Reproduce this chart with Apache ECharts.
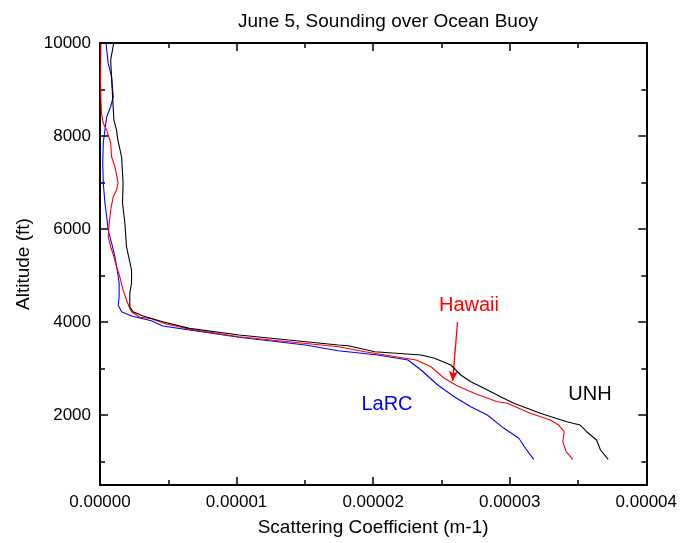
<!DOCTYPE html>
<html>
<head>
<meta charset="utf-8">
<script src="https://cdn.jsdelivr.net/npm/echarts@6/dist/echarts.min.js"></script>
<style>
html,body{margin:0;padding:0;background:#fff;}
#c{width:680px;height:543px;}
</style>
</head>
<body>
<div id="c"></div>
<script>
// Scattering coefficient in units of 1e-6 m-1, altitude in ft
const unhX = [1.0, 0.78, 0.92, 1.02, 1.21, 1.31, 1.58, 1.69, 1.65, 1.82, 1.94, 2.31, 2.31, 2.18, 2.18, 2.42, 3.15, 4.60, 6.55, 10.18, 13.82, 17.45, 18.18, 20.12, 23.51, 24.49, 25.69, 26.42, 27.15, 28.12, 29.09, 29.33, 30.31, 32.24, 34.18, 35.15, 35.64, 36.36, 36.65, 37.21];
const unhAlt = [9990, 9633, 8845, 8344, 8129, 7914, 7555, 6990, 6560, 6130, 5621, 5121, 4841, 4626, 4332, 4224, 4132, 4009, 3867, 3724, 3616, 3509, 3494, 3365, 3294, 3223, 3079, 2864, 2720, 2578, 2434, 2398, 2256, 2041, 1860, 1789, 1645, 1467, 1252, 1052];

const hawX = [0.07, 0.04, 0.07, 0.11, 0.24, 0.49, 0.78, 0.85, 1.09, 1.33, 1.21, 0.97, 0.78, 0.68, 0.60, 0.78, 1.02, 1.21, 1.45, 1.69, 1.94, 2.13, 2.31, 2.91, 3.64, 4.85, 6.55, 10.18, 17.45, 19.40, 23.15, 24.24, 25.21, 26.18, 27.40, 29.09, 29.82, 31.51, 32.97, 33.58, 33.99, 33.89, 34.13, 34.62];
const hawAlt = [9990, 9200, 8774, 8494, 8273, 8129, 7850, 7555, 7340, 6990, 6840, 6696, 6410, 6130, 5836, 5621, 5406, 5191, 4976, 4691, 4476, 4332, 4224, 4104, 4082, 3960, 3846, 3687, 3472, 3365, 3186, 3042, 2793, 2628, 2471, 2290, 2256, 2041, 1897, 1789, 1645, 1431, 1216, 1052];

const larcX = [0.44, 0.60, 0.85, 0.97, 0.78, 0.49, 0.36, 0.24, 0.20, 0.24, 0.36, 0.49, 0.60, 0.85, 1.09, 1.26, 1.40, 1.40, 1.33, 1.58, 2.31, 3.76, 4.60, 6.55, 10.18, 15.03, 17.45, 20.36, 22.55, 23.51, 24.73, 25.94, 27.15, 28.36, 29.58, 30.67, 31.15, 31.76];
const larcAlt = [9992, 9562, 9274, 8845, 8630, 8415, 8129, 7850, 7420, 6990, 6560, 6266, 5980, 5701, 5406, 5121, 4841, 4547, 4368, 4224, 4132, 4031, 3917, 3831, 3674, 3509, 3386, 3294, 3186, 2971, 2649, 2398, 2183, 2004, 1718, 1504, 1289, 1052];

const xTicks = [0, 10, 20, 30, 40];
const yMajorTicks = [2000, 4000, 6000, 8000, 10000];
const yMinorTicks = [1000, 3000, 5000, 7000, 9000];

const arrowFrom = [26.18, 4003];
const arrowTo = [25.82, 2735];

const FONT = 'Liberation Sans, Arial, sans-serif';
const pair = (xs, ys) => xs.map((v, i) => [v, ys[i]]);
const chart = echarts.init(document.getElementById('c'));

const axisLine = {show: true, onZero: false, lineStyle: {color: '#000', width: 2}};
function yAxisDef(pos, ticks, len, labels) {
  return {
    type: 'value', position: pos, min: 500, max: 10000,
    axisLine: axisLine,
    axisTick: {show: true, inside: true, length: len, customValues: ticks, lineStyle: {color: '#000', width: 1.5}},
    axisLabel: labels ? {show: true, customValues: yMajorTicks, color: '#000', fontSize: 17, fontFamily: FONT, margin: 9,
      formatter: v => String(v)} : {show: false},
    splitLine: {show: false}
  };
}

chart.setOption({
  animation: false,
  backgroundColor: '#fff',
  title: {
    text: 'June 5, Sounding over Ocean Buoy',
    left: 233, top: 7,
    textStyle: {color: '#000', fontSize: 19, fontWeight: 'normal', fontFamily: FONT}
  },
  grid: {left: 100, right: 30, top: 43, bottom: 58},
  xAxis: [
    {
      type: 'value', position: 'bottom', min: 0, max: 40, interval: 10,
      name: 'Scattering Coefficient (m-1)', nameLocation: 'middle', nameGap: 33,
      nameTextStyle: {color: '#000', fontSize: 19, fontFamily: FONT},
      axisLine: axisLine,
      axisTick: {show: true, inside: true, length: 8, lineStyle: {color: '#000', width: 1.5}},
      minorTick: {show: true, splitNumber: 2, length: 5, lineStyle: {color: '#000', width: 1.5}},
      axisLabel: {color: '#000', fontSize: 17, fontFamily: FONT, margin: 9,
        formatter: v => (v * 1e-6).toFixed(5)},
      splitLine: {show: false}, minorSplitLine: {show: false}
    },
    {
      type: 'value', position: 'top', min: 0, max: 40, interval: 10,
      axisLine: axisLine,
      axisTick: {show: true, inside: true, length: 8, lineStyle: {color: '#000', width: 1.5}},
      minorTick: {show: true, splitNumber: 2, length: 5, lineStyle: {color: '#000', width: 1.5}},
      axisLabel: {show: false},
      splitLine: {show: false}, minorSplitLine: {show: false}
    }
  ],
  yAxis: [
    Object.assign(yAxisDef('left', yMajorTicks, 8, true), {
      name: 'Altitude (ft)', nameLocation: 'middle', nameGap: 62, nameRotate: 90,
      nameTextStyle: {color: '#000', fontSize: 19, fontFamily: FONT}
    }),
    yAxisDef('left', yMinorTicks, 5, false),
    yAxisDef('right', yMajorTicks, 8, false),
    yAxisDef('right', yMinorTicks, 5, false)
  ],
  series: [
    {
      name: 'LaRC', type: 'line', data: pair(larcX, larcAlt), showSymbol: false,
      lineStyle: {color: '#0000ff', width: 1.1}, z: 3
    },
    {
      name: 'Hawaii', type: 'line', data: pair(hawX, hawAlt), showSymbol: false,
      lineStyle: {color: '#ff0000', width: 1.1}, z: 4,
      markLine: {
        silent: true, symbol: ['none', 'arrow'], symbolSize: [7, 10],
        label: {show: false},
        lineStyle: {color: '#ff0000', width: 1.3, type: 'solid'},
        data: [[{coord: arrowFrom}, {coord: arrowTo}]]
      }
    },
    {
      name: 'UNH', type: 'line', data: pair(unhX, unhAlt), showSymbol: false,
      lineStyle: {color: '#000000', width: 1.1}, z: 5
    }
  ],
  graphic: [
    {type: 'text', x: 469, y: 305, style: {text: 'Hawaii', fill: '#ff0000', font: '20px ' + FONT, align: 'center', verticalAlign: 'middle'}},
    {type: 'text', x: 387, y: 404, style: {text: 'LaRC', fill: '#0000ff', font: '20px ' + FONT, align: 'center', verticalAlign: 'middle'}},
    {type: 'text', x: 590, y: 394, style: {text: 'UNH', fill: '#000000', font: '20px ' + FONT, align: 'center', verticalAlign: 'middle'}}
  ]
});
</script>
</body>
</html>
